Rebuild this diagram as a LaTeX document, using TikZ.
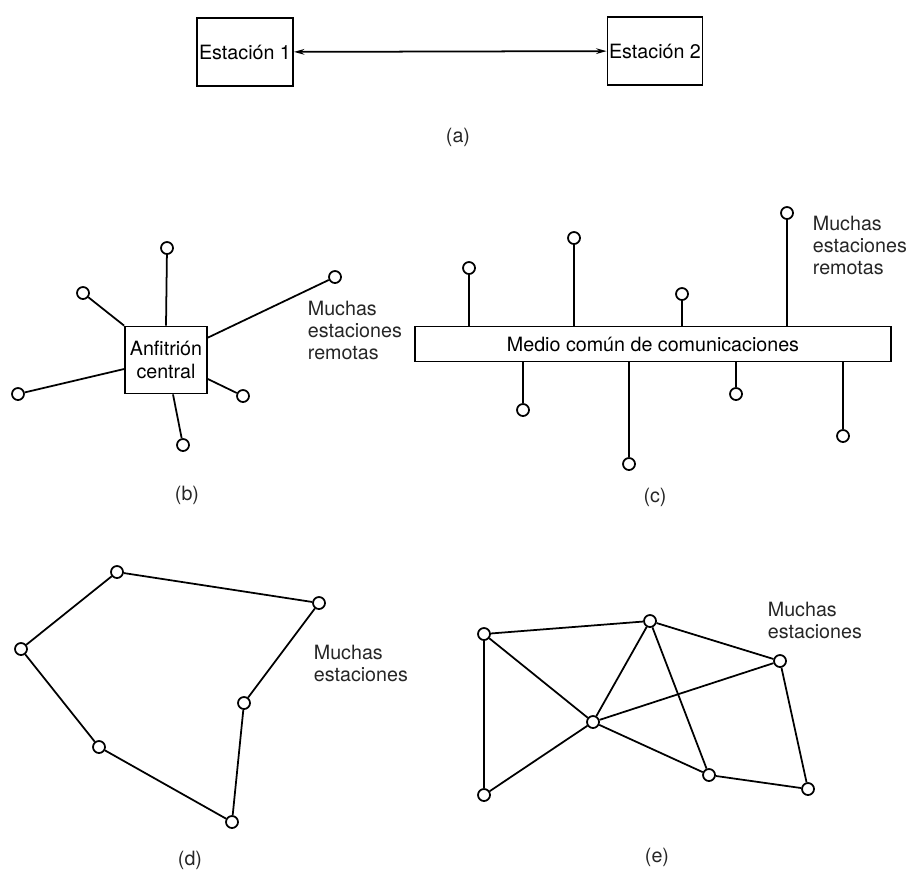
\documentclass[tikz,border=0pt]{standalone}
\usepackage{fontspec}
\setmainfont{TeX Gyre Heros}
\usetikzlibrary{arrows.meta}

\tikzset{
  sta/.style={circle,draw,fill=white,minimum size=0.3cm,inner sep=0pt},
  box/.style={draw,rectangle,inner sep=0pt},
  lbl/.style={align=left,inner sep=0pt,anchor=north west,text=black!85},
  sublbl/.style={inner sep=0pt,text=black!85}
}

\begin{document}
\begin{tikzpicture}[x=0.025cm,y=-0.025cm,line width=1.25pt,font=\fontsize{14}{15.8}\selectfont,>={Stealth[length=0.26cm,width=0.14cm]}]
  \useasboundingbox (0,0) rectangle (906,870);

  % (a)
  \node[box,minimum width=2.4cm,minimum height=1.7cm] (est1) at (245,52) {Estación 1};
  \node[box,minimum width=2.375cm,minimum height=1.7cm] (est2) at (655,51) {Estación 2};
  \draw[<->] (est1) -- (est2);
  \node[sublbl] (capa) at (458,137) {(a)};

  % (b)
  \node[box,minimum width=2.05cm,minimum height=1.675cm,align=center] (host) at (166,360) {Anfitrión\\central};
  \node[sta] (b1) at (167,248) {};
  \node[sta] (b2) at (83,293) {};
  \node[sta] (b3) at (335,277) {};
  \node[sta] (b4) at (18,394) {};
  \node[sta] (b5) at (243,396) {};
  \node[sta] (b6) at (183,445) {};
  \draw (b1) -- (host.north);
  \draw (b2) -- (host.north west);
  \draw (b3) -- ([yshift=-0.3cm]host.north east);
  \draw (b4) -- ([yshift=-0.225cm]host.west);
  \draw (b5) -- ([yshift=-0.475cm]host.east);
  \draw (b6) -- ([xshift=0.175cm]host.south);
  \node[lbl] (txtb) at (307,300) {Muchas\\estaciones\\remotas};
  \node[sublbl] (capb) at (187,495) {(b)};

  % (c)
  \node[box,minimum width=11.9cm,minimum height=0.875cm] (bus) at (653,344) {Medio común de comunicaciones};
  \node[sta] (c1) at (469,268) {};
  \node[sta] (c2) at (574,238) {};
  \node[sta] (c3) at (682,294) {};
  \node[sta] (c4) at (787,213) {};
  \node[sta] (c5) at (523,410) {};
  \node[sta] (c6) at (629,464) {};
  \node[sta] (c7) at (736,394) {};
  \node[sta] (c8) at (843,436) {};
  \foreach \s in {c1,c2,c3,c4}
    \draw (\s) -- (\s |- bus.north);
  \foreach \s in {c5,c6,c7,c8}
    \draw (\s) -- (\s |- bus.south);
  \node[lbl] (txtc) at (812,215) {Muchas\\estaciones\\remotas};
  \node[sublbl] (capc) at (655,497) {(c)};

  % (d)
  \node[sta] (d1) at (117,572) {};
  \node[sta] (d2) at (319,603) {};
  \node[sta] (d3) at (244,703) {};
  \node[sta] (d4) at (232,822) {};
  \node[sta] (d5) at (99,747) {};
  \node[sta] (d6) at (21,649) {};
  \draw (d1) -- (d2) -- (d3) -- (d4) -- (d5) -- (d6) -- (d1);
  \node[lbl] (txtd) at (313,644) {Muchas\\estaciones};
  \node[sublbl] (capd) at (190,860) {(d)};

  % (e)
  \node[sta] (e1) at (484,634) {};
  \node[sta] (e2) at (650,621) {};
  \node[sta] (e3) at (780,661) {};
  \node[sta] (e4) at (593,722) {};
  \node[sta] (e5) at (709,775) {};
  \node[sta] (e6) at (808,789) {};
  \node[sta] (e7) at (484,795) {};
  \draw (e1) -- (e2);
  \draw (e1) -- (e7);
  \draw (e1) -- (e4);
  \draw (e2) -- (e4);
  \draw (e2) -- (e3);
  \draw (e2) -- (e5);
  \draw (e4) -- (e3);
  \draw (e4) -- (e5);
  \draw (e4) -- (e7);
  \draw (e3) -- (e6);
  \draw (e5) -- (e6);
  \node[lbl] (txte) at (767,601) {Muchas\\estaciones};
  \node[sublbl] (cape) at (657,857) {(e)};
\end{tikzpicture}
\end{document}
